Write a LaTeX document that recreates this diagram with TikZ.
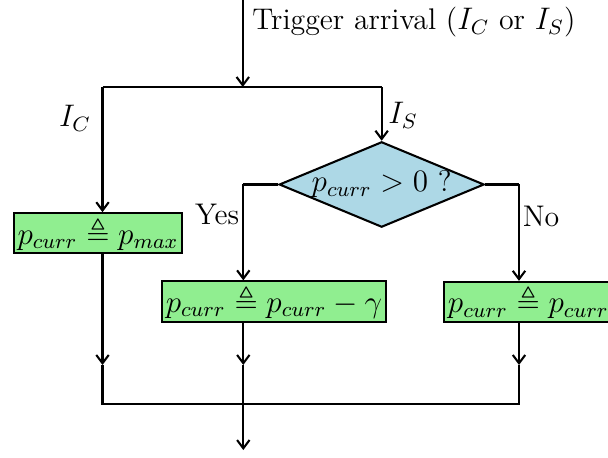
\documentclass[tikz,border=0pt]{standalone}
\usepackage{amsmath}
\usepackage{amssymb}
\usetikzlibrary{shapes.geometric, arrows.meta}
\definecolor{boxgreen}{RGB}{144,238,144}
\definecolor{condblue}{RGB}{173,216,230}

\begin{document}
\begin{tikzpicture}[
    thick,
    >={Straight Barb[length=3.2pt, width=4.8pt]},
    every node/.style={font=\fontsize{11.5}{14}\selectfont},
    action/.style={draw, fill=boxgreen, inner xsep=1.5pt, inner ysep=1.3pt},
    decision/.style={draw, diamond, fill=condblue, aspect=2.4, inner sep=0pt}
]
\path[use as bounding box, clip] (0,0) rectangle (8.226,-6.183);
\coordinate (top) at (3.285,0);
\coordinate (split) at (3.285,-1.177);
\coordinate (cl) at (1.387,-1.177);
\coordinate (sl) at (5.164,-1.177);
\node[decision] (test) at (5.164,-2.496) {$p_{curr} > 0$ ?};
\node[action] (setmax) at (1.326,-3.157) {$p_{curr} \triangleq p_{max}$};
\node[action] (dec) at (3.707,-4.079) {$p_{curr} \triangleq p_{curr} - \gamma$};
\node[action, anchor=west] (keep) at (5.994,-4.086) {$p_{curr} \triangleq p_{curr}$};
\coordinate (yes) at (3.292,-2.496);
\coordinate (no) at (7.022,-2.496);
\coordinate (tipy) at (0,-4.938);
\coordinate (ml) at (1.387,-5.466);
\coordinate (mr) at (7.022,-5.466);
\coordinate (out) at (3.292,-6.089);
% labels
\node[right] (trig) at (3.285,-0.30) {Trigger arrival ($I_C$ or $I_S$)};
\node (lc) at (1.015,-1.597) {$I_C$};
\node (ls) at (5.453,-1.556) {$I_S$};
\node (ly) at (2.936,-2.895) {Yes};
\node (ln) at (7.32,-2.922) {No};
% connectors
\draw[->] (top) -- (split);
\draw (cl) -- (sl);
\draw[->] (cl) -- (cl |- setmax.north);
\draw[->] (sl) -- (test.north);
\draw (test.west) -- (yes);
\draw[->] (yes) -- (yes |- dec.north);
\draw (test.east) -- (no);
\draw[->] (no) -- (no |- keep.north);
\draw[->] (cl |- setmax.south) -- (cl |- tipy);
\draw[->] (yes |- dec.south) -- (yes |- tipy);
\draw[->] (no |- keep.south) -- (no |- tipy);
\draw (cl |- tipy) -- (ml) -- (mr) -- (no |- tipy);
\draw[->] (yes |- tipy) -- (out);
\end{tikzpicture}
\end{document}
